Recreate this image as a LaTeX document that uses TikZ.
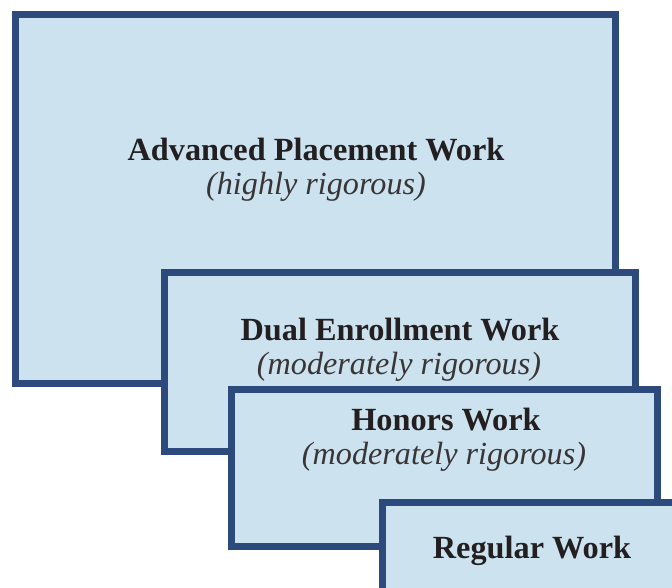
\documentclass[tikz,border=0pt]{standalone}
\usepackage{fontspec}
\setmainfont{Liberation Serif}
\definecolor{boxfill}{RGB}{204,227,239}
\definecolor{boxline}{RGB}{44,74,124}
\definecolor{txt}{RGB}{35,31,32}
\begin{document}
\begin{tikzpicture}[x=1pt,y=-1pt,
  tier/.style={draw=boxline, fill=boxfill, line width=6.5pt, inner sep=0pt, outer sep=0pt},
  title/.style={font=\fontsize{32.3}{36}\selectfont\bfseries, text=txt, anchor=base, inner sep=0pt},
  sub/.style={font=\fontsize{32.2}{36}\selectfont\itshape, text=txt!90, anchor=base, inner sep=0pt}]
\useasboundingbox (0,0) rectangle (672,588);
\clip (0,0) rectangle (672,588);
\node[tier, minimum width=600pt, minimum height=369pt] (ap) at (315.5,199) {};
\node[tier, minimum width=471pt, minimum height=179pt] (de) at (400,362) {};
\node[tier, minimum width=426pt, minimum height=157pt] (hw) at (444.5,468) {};
\node[tier, minimum width=307.5pt, minimum height=97.5pt] (rw) at (536.25,551.25) {};
\node[title] (apt) at (316,161) {Advanced Placement Work};
\node[sub] (aps) at (316,195) {(highly rigorous)};
\node[title] (det) at (400,340) {Dual Enrollment Work};
\node[sub] (des) at (399,374) {(moderately rigorous)};
\node[title] (hwt) at (446,430) {Honors Work};
\node[sub] (hws) at (444,464) {(moderately rigorous)};
\node[title] (rwt) at (532,558) {Regular Work};
\end{tikzpicture}
\end{document}
